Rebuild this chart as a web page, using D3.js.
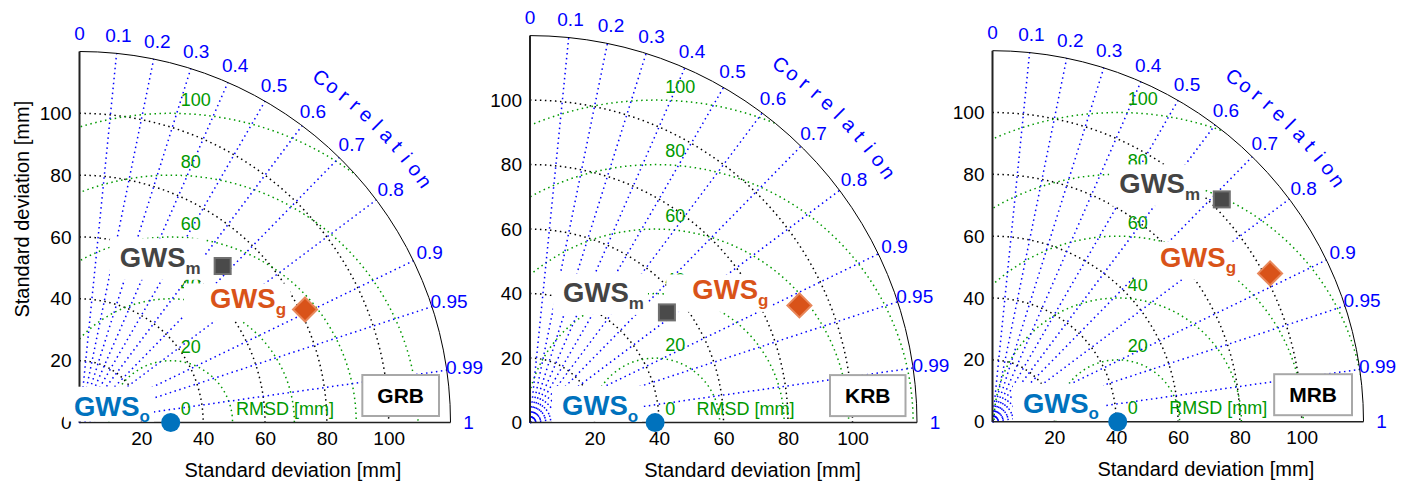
<!DOCTYPE html>
<html>
<head>
<meta charset="utf-8">
<script src="https://cdn.jsdelivr.net/npm/d3@7"></script>
<style>
  body { margin: 0; background: #fff; }
  svg { display: block; }
  text { font-family: "Liberation Sans", Arial, Helvetica, sans-serif; }
</style>
</head>
<body>
<svg id="chart" width="1410" height="484"></svg>
<script>
// ---- data ----
const basins = ["GRB", "KRB", "MRB"];
const stdObserved = [29.5, 38.8, 40.5];      // GWS_o standard deviation [mm]
const stdModel = [68.6, 54.5, 103.3];        // GWS_m standard deviation [mm]
const corrModel = [0.675, 0.779, 0.718];     // GWS_m correlation
const stdGrace = [81.6, 91.1, 101.8];        // GWS_g standard deviation [mm]
const corrGrace = [0.894, 0.917, 0.882];     // GWS_g correlation
const corrTicks = [0, 0.1, 0.2, 0.3, 0.4, 0.5, 0.6, 0.7, 0.8, 0.9, 0.95, 0.99, 1];
const stdTicksX = [20, 40, 60, 80, 100];
const stdTicksY = [0, 20, 40, 60, 80, 100];
const stdArcs = [20, 40, 60, 80, 100];
const rmsArcs = [20, 40, 60, 80, 100];
const rmsLabels = [0, 20, 40, 60, 80, 100];
const stdMax = 120;

// ---- layout ----
const panels = [
  { x0: 79.5, y0: 422.5, R: 371 },
  { x0: 530, y0: 422.6, R: 387 },
  { x0: 992.5, y0: 421.7, R: 371 }
];
// label anchors relative to the marker (end of text, baseline), px
const offModel = [[-22, 1.3], [-23, -10], [-21.7, -6]];
const offGrace = [[-19, -1], [-31, -6], [-34, -6.6]];
const offObs = [[-20.7, -6.8], [-17, -7.6], [-18.7, -9]];
const rmsTitleAt = [66.5, 66.8, 73];   // x position of the RMSD title, in mm

const BLUE = "#0000ff", GREEN = "#009900";
const C_OBS = "#0072BD", C_GRACE = "#D95319", C_MODEL = "#444444";
const DOT = "1.5,3.5";

const svg = d3.select("#chart");

basins.forEach((name, i) => {
  const P = panels[i];
  const R = P.R;
  const s = d3.scaleLinear().domain([0, stdMax]).range([0, R]);
  const sy = d3.scaleLinear().domain([0, stdMax]).range([0, -R]);
  const polar = (sd, c) => [s(sd * c), sy(sd * Math.sqrt(1 - c * c))];

  const g = svg.append("g").attr("transform", `translate(${P.x0},${P.y0})`);

  const clipId = "quad" + i;
  g.append("clipPath").attr("id", clipId).append("path")
    .attr("d", `M0,0 L${R},0 A${R},${R} 0 0 0 0,${-R} Z`);

  const grid = g.append("g").attr("fill", "none")
    .attr("stroke-width", 1.5).attr("stroke-dasharray", DOT);

  // standard deviation arcs
  grid.selectAll(".sd").data(stdArcs).join("path")
    .attr("d", v => `M0,${sy(v)} A${s(v)},${s(v)} 0 0 1 ${s(v)},0`)
    .attr("stroke", "#000");

  // RMSD contours around the observed point
  grid.append("g").attr("clip-path", `url(#${clipId})`)
    .selectAll("circle").data(rmsArcs).join("circle")
    .attr("cx", s(stdObserved[i])).attr("cy", 0).attr("r", v => s(v))
    .attr("stroke", GREEN);

  // correlation rays
  grid.selectAll(".cr").data(corrTicks.filter(c => c > 0 && c < 1)).join("line")
    .attr("x1", 0).attr("y1", 0)
    .attr("x2", c => polar(stdMax, c)[0]).attr("y2", c => polar(stdMax, c)[1])
    .attr("stroke", BLUE);

  // outer arc and axes
  g.append("path").attr("d", `M0,${-R} A${R},${R} 0 0 1 ${R},0`)
    .attr("fill", "none").attr("stroke", "#000").attr("stroke-width", 1);
  g.append("line").attr("x1", 0).attr("y1", 0).attr("x2", 0).attr("y2", sy(stdMax))
    .attr("stroke", "#222").attr("stroke-width", 2);
  g.append("line").attr("x1", 0).attr("y1", 0).attr("x2", s(stdMax)).attr("y2", 0)
    .attr("stroke", "#222").attr("stroke-width", 1.5);

  // tick labels
  const ax = g.append("g")
    .call(d3.axisBottom(s).tickValues(stdTicksX).tickSize(0).tickPadding(9).tickFormat(d3.format("d")));
  const ay = g.append("g")
    .call(d3.axisLeft(sy).tickValues(stdTicksY).tickSize(0).tickPadding(8).tickFormat(d3.format("d")));
  [ax, ay].forEach(a => {
    a.select(".domain").remove();
    a.attr("font-size", null).attr("font-family", null);
    a.selectAll("text").attr("font-size", 19).attr("fill", "#000");
  });

  // correlation labels
  g.selectAll(".cl").data(corrTicks).join("text")
    .attr("x", c => (R + 18) * c)
    .attr("y", c => -(R + 18) * Math.sqrt(1 - c * c))
    .attr("text-anchor", "middle").attr("dominant-baseline", "central")
    .attr("font-size", 19).attr("fill", BLUE)
    .text(c => String(c));

  // curved "Correlation" title
  const word = "Correlation".split("");
  const a0 = 55, a1 = 35;
  g.selectAll(".ct").data(word).join("text")
    .attr("transform", (ch, k) => {
      const a = a0 + (a1 - a0) * k / (word.length - 1);
      const t = a * Math.PI / 180;
      return `translate(${(R + 50) * Math.cos(t)},${-(R + 50) * Math.sin(t)}) rotate(${90 - a})`;
    })
    .attr("text-anchor", "middle").attr("dominant-baseline", "central")
    .attr("font-size", 20).attr("fill", BLUE)
    .text(ch => ch);

  // RMSD contour labels
  g.selectAll(".rl").data(rmsLabels).join("text")
    .attr("x", s(stdObserved[i]) + 10)
    .attr("y", v => -s(v) - 13.4)
    .attr("dominant-baseline", "central")
    .attr("font-size", 18).attr("fill", GREEN)
    .text(v => v);
  g.append("text")
    .attr("x", s(rmsTitleAt[i])).attr("y", -14)
    .attr("text-anchor", "middle").attr("dominant-baseline", "central")
    .attr("font-size", 18).attr("fill", GREEN)
    .text("RMSD [mm]");

  // axis titles
  g.append("text")
    .attr("x", 0.575 * R).attr("y", 54)
    .attr("text-anchor", "middle").attr("font-size", 20).attr("fill", "#000")
    .text("Standard deviation [mm]");
  if (i === 0) {
    g.append("text")
      .attr("transform", `translate(${-57.5},${-0.575 * R}) rotate(-90)`)
      .attr("text-anchor", "middle").attr("dominant-baseline", "central")
      .attr("font-size", 20).attr("fill", "#000")
      .text("Standard deviation [mm]");
  }

  // point labels with white backing (padding: left, right, top, bottom)
  const pObs = [s(stdObserved[i]), 0];
  const pModel = polar(stdModel[i], corrModel[i]);
  const pGrace = polar(stdGrace[i], corrGrace[i]);
  const labels = [
    { p: pModel, off: offModel[i], sub: "m", color: C_MODEL, pad: [10, 4, 4, 2] },
    { p: pGrace, off: offGrace[i], sub: "g", color: C_GRACE, pad: [26, 4, 0, 2] },
    { p: pObs, off: offObs[i], sub: "o", color: C_OBS, pad: [10, 4, 4, 5] }
  ];
  labels.forEach(L => {
    const lg = g.append("g");
    const bg = lg.append("rect").attr("fill", "#fff");
    const t = lg.append("text")
      .attr("x", L.p[0] + L.off[0]).attr("y", L.p[1] + L.off[1])
      .attr("text-anchor", "end").attr("font-weight", "bold").attr("fill", L.color);
    t.append("tspan").attr("font-size", 27.5).text("GWS");
    t.append("tspan").attr("font-size", 17).attr("dy", 6.5).text(L.sub);
    const bb = t.node().getBBox();
    const top = bb.y - L.pad[2];
    const bottom = Math.min(bb.y + bb.height + L.pad[3], -1);
    bg.attr("x", bb.x - L.pad[0]).attr("y", top)
      .attr("width", bb.width + L.pad[0] + L.pad[1]).attr("height", bottom - top);
  });

  // markers
  g.append("circle").attr("cx", pObs[0]).attr("cy", pObs[1]).attr("r", 9.5).attr("fill", C_OBS);
  g.append("rect")
    .attr("x", pModel[0] - 8).attr("y", pModel[1] - 8).attr("width", 16).attr("height", 16)
    .attr("fill", "#4a4a4a").attr("stroke", "#707070").attr("stroke-width", 2);
  g.append("path")
    .attr("d", `M${pGrace[0]},${pGrace[1] - 12} L${pGrace[0] + 12},${pGrace[1]} L${pGrace[0]},${pGrace[1] + 12} L${pGrace[0] - 12},${pGrace[1]} Z`)
    .attr("fill", C_GRACE).attr("stroke", "#E8875A").attr("stroke-width", 2);

  // basin name box
  const nb = g.append("g");
  const nbRect = nb.append("rect").attr("fill", "#fff").attr("stroke", "#a8a8a8").attr("stroke-width", 2);
  const nbText = nb.append("text")
    .attr("text-anchor", "middle").attr("dominant-baseline", "central")
    .attr("font-size", 21).attr("font-weight", "bold").attr("fill", "#000")
    .text(name);
  const tw = nbText.node().getComputedTextLength();
  const right = R - 11.5, boxW = tw + 30;
  nbRect.attr("x", right - boxW).attr("y", -47.5).attr("width", boxW).attr("height", 41);
  nbText.attr("x", right - boxW / 2).attr("y", -27);
});
</script>
</body>
</html>
